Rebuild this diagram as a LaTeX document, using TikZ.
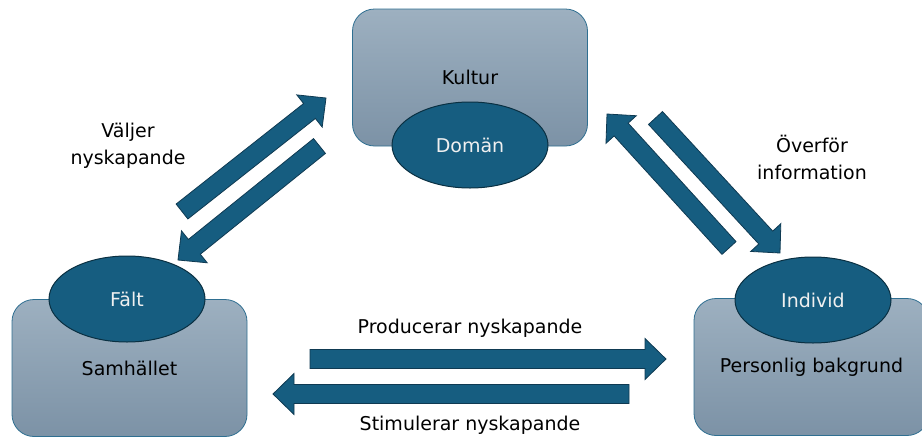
\documentclass[tikz,border=0pt]{standalone}
\usepackage{fontspec}
\setmainfont{DejaVu Sans}
\usepackage{tikz}
\usepackage{xcolor}
\usetikzlibrary{calc,shapes.geometric}

\definecolor{boxtop}{RGB}{157,176,192}
\definecolor{boxbot}{RGB}{124,146,166}
\definecolor{boxline}{RGB}{47,111,145}
\definecolor{ovalfill}{RGB}{22,93,128}
\definecolor{ovalline}{RGB}{10,48,66}
\definecolor{pilline}{RGB}{15,58,82}

\newcommand{\pilsw}{9.5pt}
\newcommand{\pilhw}{20.5pt}
\newcommand{\pilhl}{21pt}
\newcommand{\blockpil}[2]{%
  \coordinate (hb) at ($(#2)!\pilhl!(#1)$);
  \filldraw[pilstyle] ($(#1)!\pilsw!90:(#2)$) -- ($(hb)!\pilsw!-90:(#1)$) -- ($(hb)!\pilhw!-90:(#1)$) -- (#2)
    -- ($(hb)!\pilhw!90:(#1)$) -- ($(hb)!\pilsw!90:(#1)$) -- ($(#1)!\pilsw!-90:(#2)$) -- cycle;}

\begin{document}
\begin{tikzpicture}[x=1pt,y=-1pt,
    boxnode/.style={rectangle, rounded corners=22pt, draw=boxline, line width=0.8pt, top color=boxtop, bottom color=boxbot, minimum width=235pt, minimum height=137pt, font=\fontsize{19}{22}\selectfont},
    ovalnode/.style={ellipse, draw=ovalline, fill=ovalfill, line width=1pt, minimum width=156pt, minimum height=86pt, inner sep=0pt, text=white!94!black, font=\fontsize{19}{22}\selectfont},
    textnode/.style={align=center, font=\fontsize{19}{27}\selectfont},
    pilstyle/.style={fill=ovalfill, draw=pilline, line width=0.8pt, line join=miter}]
    \useasboundingbox (0,0) rectangle (922,437);

    \node[boxnode] (kultur) at (470,77.5) {Kultur};
    \node[boxnode] (samhallet) at (129.5,368) {Samhället};
    \node[boxnode] (bakgrund) at (811.5,367) {Personlig bakgrund};
    \node[ovalnode] (doman) at (470,145) {Domän};
    \node[ovalnode] (falt) at (127,299) {Fält};
    \node[ovalnode] (individ) at (813,300) {Individ};

    \node[textnode] (valjer) at (128,146) {Väljer\\nyskapande};
    \node[textnode] (overfor) at (812,157) {Överför\\information};
    \node[textnode] (producerar) at (470,328) {Producerar nyskapande};
    \node[textnode] (stimulerar) at (470,425) {Stimulerar nyskapande};

    \coordinate (va) at (182,211.5);
    \coordinate (vb) at (326,98);
    \coordinate (fa) at (319.5,146);
    \coordinate (fb) at (178,260);
    \coordinate (ia) at (729,248);
    \coordinate (ib) at (607,114);
    \coordinate (oa) at (655.5,118);
    \coordinate (ob) at (780,253);
    \coordinate (pa) at (310,359);
    \coordinate (pb) at (666,359);
    \coordinate (sa) at (629,394);
    \coordinate (sb) at (273,394);

    \blockpil{va}{vb}
    \blockpil{fa}{fb}
    \blockpil{ia}{ib}
    \blockpil{oa}{ob}
    \blockpil{pa}{pb}
    \blockpil{sa}{sb}

\end{tikzpicture}
\end{document}
